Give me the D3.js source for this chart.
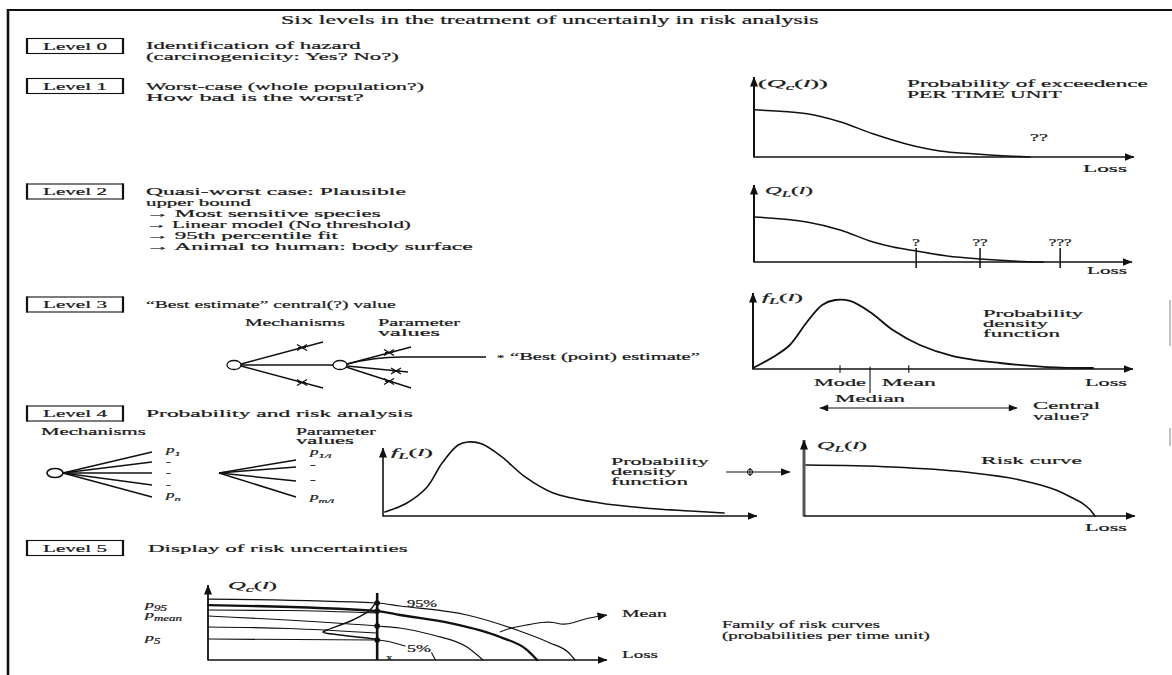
<!DOCTYPE html>
<html><head><meta charset="utf-8">
<script src="https://cdn.jsdelivr.net/npm/d3@7"></script>
<style>
html,body{margin:0;padding:0;background:#fff;}
svg{display:block;}
text{font-family:"Liberation Serif","Times New Roman",serif;fill:#1c1c1c;stroke:#1c1c1c;stroke-width:0.22;}
</style></head><body>
<svg id="c" width="1172" height="675"></svg>
<script>
// ================= DATA =================
const titleText = "Six levels in the treatment of uncertainly in risk analysis";
const levelNames = ["Level 0","Level 1","Level 2","Level 3","Level 4","Level 5"];
const level0Lines = ["Identification of hazard","(carcinogenicity: Yes? No?)"];
const level1Lines = ["Worst-case (whole population?)","How bad is the worst?"];
const level2Lines = ["Quasi-worst case: Plausible","upper bound","\u2192 Most sensitive species",
  "\u2192 Linear model (No threshold)","\u2192 95th percentile fit","\u2192 Animal to human: body surface"];
const level3Lines = ["\u201CBest estimate\u201D central(?) value"];
const level4Lines = ["Probability and risk analysis"];
const level5Lines = ["Display of risk uncertainties"];

// Level 1: probability of exceedence per time unit  [loss, Q]
const worstCaseCurve = [[0,0.59],[14,0.54],[22.6,0.44],[31.3,0.29],[40.3,0.16],[48.9,0.075],[57.6,0.04],[66.6,0.013],[72.6,0]];
const worstCaseNote = "??";
// Level 2: quasi-worst case
const quasiCurve = [[0,0.584],[14,0.519],[22.8,0.416],[31.5,0.26],[36.8,0.195],[42.9,0.143],[51.1,0.078],[59.8,0.039],[68.5,0.013],[76.5,0]];
const quasiTicks = [42.9, 59.8, 81];
const quasiTickLabels = ["?","??","???"];
// Level 3: probability density function
const bestPdf = [[0,0.013],[5.3,0.158],[9.7,0.316],[14.2,0.618],[18.2,0.842],[21.6,0.908],[25.5,0.895],[30.8,0.75],[36.8,0.513],[43.9,0.316],[52.6,0.171],[65,0.079],[77.4,0.026],[89.5,0.013]];
const centralNames = ["Mode","Median","Mean"];
const centralValues = [22.9, 30.8, 41];
const centralRange = [17.6, 69.5];
// Level 4: pdf and risk curve
const riskPdf = [[0.5,0.059],[6.4,0.191],[11.8,0.426],[15.8,0.779],[20.1,1.044],[22.7,1.088],[26.5,1.059],[31.8,0.868],[38,0.574],[45.5,0.338],[58,0.191],[69.8,0.118],[82.1,0.074],[91.2,0.044]];
const riskCurve = [[0.6,0.671],[26.6,0.645],[48.6,0.579],[65.3,0.474],[76.1,0.342],[81,0.24],[84,0.171],[86.5,0.08],[87.9,0]];
const mechanismLabels = ["p|1","-","-","-","p|n"];
const parameterLabels = ["p|1/i","-","-","p|m/i"];
// Level 5: family of risk curves
const familyNames = ["p95","pmeanUpper","mean","middle","pLower","p5"];
const familyCurves = [
  [[0,0.813],[42.4,0.76],[48.1,0.72],[64.9,0.6],[77.4,0.4],[85.7,0.227],[90.2,0.107],[92,0]],
  [[0,0.667],[20,0.66],[42.4,0.627]],
  [[0,0.733],[42.4,0.653],[48.1,0.6],[60.7,0.493],[73.2,0.307],[80,0.133],[82.5,0]],
  [[0,0.587],[42.4,0.453],[48.1,0.427],[56.4,0.333],[64.9,0.173],[68.9,0]],
  [[0,0.44],[20,0.42],[42.4,0.36]],
  [[0,0.28],[42.4,0.267],[49.4,0.187]]
];
const lossMark = 42.4;
const dotValues = [0.76, 0.653, 0.453, 0.267];
const uncertaintyDensity = [[42.4,0.8],[40.6,0.667],[36.3,0.533],[29.8,0.4],[28.8,0.373],[33.1,0.333],[39.8,0.293],[43,0.267]];
const percentileLabels = ["p|95","p|mean","p|5"];
const percentileLabelValues = [0.733, 0.6, 0.293];
const meanPointer = [[73.2,0.373],[75.7,0.427],[79.9,0.467],[84,0.507],[86.5,0.507],[89,0.467],[91.5,0.493],[95,0.56],[100,0.6]];

// ================= DRAWING =================
const svg = d3.select("#c");
const defs = svg.append("defs");
defs.append("marker").attr("id","ah").attr("viewBox","0 0 10 8").attr("refX",9.5).attr("refY",4)
  .attr("markerWidth",10).attr("markerHeight",8).attr("markerUnits","userSpaceOnUse").attr("orient","auto")
  .append("path").attr("d","M0,0 L10,4 L0,8 Z").attr("fill","#111");
defs.append("marker").attr("id","ahs").attr("viewBox","0 0 10 8").attr("refX",9.5).attr("refY",4)
  .attr("markerWidth",12).attr("markerHeight",7).attr("markerUnits","userSpaceOnUse").attr("orient","auto-start-reverse")
  .append("path").attr("d","M0,0 L10,4 L0,8 Z").attr("fill","#111");

function addText(x, y, content, o = {}) {
  const fs = o.fs || 10.5;
  const t = svg.append("text").attr("font-size", fs).attr("x", 0).attr("y", 0);
  if (o.weight) t.attr("font-weight", o.weight);
  let parts;
  if (typeof content === "string") {
    if (content.includes("|")) { const [a,b] = content.split("|"); parts = [{t:a,it:true},{t:b,it:true,sub:true}]; }
    else parts = [{t:content}];
  } else parts = content;
  let off = 0;
  parts.forEach(p => {
    const s = t.append("tspan").text(p.t);
    if (p.it) s.attr("font-style","italic");
    if (p.sub) { s.attr("font-size", fs*0.72); const d = fs*0.3; s.attr("dy", d - off); off = d; }
    else if (off) { s.attr("dy", -off); off = 0; }
  });
  const len = t.node().getComputedTextLength();
  const sx = o.w ? o.w / len : (o.sx || 1.9);
  let x0 = x;
  if (o.anchor === "middle") x0 = x - len * sx / 2;
  else if (o.anchor === "end") x0 = x - len * sx;
  t.attr("transform", `translate(${x0},${y}) scale(${sx},1)`);
  return t;
}
function line(x1,y1,x2,y2,w=1.2,marker,col="#111"){
  const l = svg.append("line").attr("x1",x1).attr("y1",y1).attr("x2",x2).attr("y2",y2)
    .attr("stroke",col).attr("stroke-width",w);
  if (marker) l.attr("marker-end","url(#"+marker+")");
  return l;
}
function makeChart(xr, yr){
  return { x: d3.scaleLinear().domain([0,100]).range(xr), y: d3.scaleLinear().domain([0,1]).range(yr) };
}
function axes(c, yw=2, xw=1.3, ycol="#111"){
  line(c.x(0), c.y(0)+0.5, c.x(0), c.y(1), yw, "ah", ycol);
  line(c.x(0), c.y(0), c.x(100), c.y(0), xw, "ah");
}
function curve(c, data, w=1.5, type=d3.curveMonotoneX){
  svg.append("path").attr("d", d3.line().x(d=>c.x(d[0])).y(d=>c.y(d[1])).curve(type)(data))
    .attr("fill","none").attr("stroke","#111").attr("stroke-width",w).attr("stroke-linecap","round");
}
function star(x,y){ line(x-5,y-3,x+5,y+3,1.4); line(x-5,y+3,x+5,y-3,1.4); line(x-4,y,x+4,y,1); }

// frame
line(8,10,1172,10,2);
line(8,9,8,675,2.6);
line(1170,300,1170,346,1.2,null,"#999");
line(1170,428,1170,446,1.2,null,"#999");
// title
addText(550, 24, titleText, {fs:11.5, w:538, anchor:"middle"});

// level boxes
const boxCY = [46, 86, 191.5, 304.5, 413.5, 548];
levelNames.forEach((n,i)=>{
  svg.append("rect").attr("x",27).attr("y",boxCY[i]-7.5).attr("width",96).attr("height",15)
    .attr("fill","none").attr("stroke","#111").attr("stroke-width",1.1);
  line(27, boxCY[i]-8, 27, boxCY[i]+8, 2.2);
  line(123, boxCY[i]-8, 123, boxCY[i]+8, 2.2);
  addText(75, boxCY[i]+3.6, n, {fs:10.5, w:64, anchor:"middle"});
});

// level descriptions
addText(146, 48.5, level0Lines[0], {w:215});
addText(146, 59.5, level0Lines[1], {w:253});
addText(146, 90, level1Lines[0], {w:278});
addText(146, 101, level1Lines[1], {w:218});
const l2y = [195, 206, 217, 228, 239, 250];
const l2w = [260, 105, 235, 265, 192, 327];
level2Lines.forEach((s,i)=> addText(146, l2y[i], s, {fs:10, w:l2w[i]}));
addText(146, 308, level3Lines[0], {w:250});
addText(146, 417, level4Lines[0], {w:267});
addText(148, 551.5, level5Lines[0], {w:260});

// ---------- Level 1 chart ----------
const c1 = makeChart([754,1134],[157,77]);
axes(c1);
curve(c1, worstCaseCurve, 1.5);
addText(758, 87, [{t:"("},{t:"Q",it:true},{t:"c",it:true,sub:true},{t:"("},{t:"l",it:true},{t:"))"}], {fs:10, w:70});
addText(907, 87, "Probability of exceedence", {w:241});
addText(907, 98, "PER TIME UNIT", {w:155});
addText(1030, 141, worstCaseNote, {w:18});
addText(1083, 172, "Loss", {w:44});

// ---------- Level 2 chart ----------
const c2 = makeChart([754,1132],[262,185]);
axes(c2);
curve(c2, quasiCurve, 1.5);
quasiTicks.forEach((v,i)=>{
  line(c2.x(v), c2.y(0.182), c2.x(v), c2.y(-0.078), 1.5);
  addText(c2.x(v), 246, quasiTickLabels[i], {fs:9.5, sx:1.8, anchor:"middle"});
});
addText(765, 194, [{t:"Q",it:true},{t:"L",it:true,sub:true},{t:"("},{t:"l",it:true},{t:")"}], {w:48});
addText(1087, 274, "Loss", {w:40});

// ---------- Level 3 tree ----------
addText(245, 326, "Mechanisms", {fs:9.5, w:100});
addText(378, 326, "Parameter", {fs:9.5, w:82});
addText(378, 335.5, "values", {fs:9.5, w:62});
svg.append("ellipse").attr("cx",234).attr("cy",365).attr("rx",7).attr("ry",4.5).attr("fill","#fff").attr("stroke","#111").attr("stroke-width",1.3);
svg.append("ellipse").attr("cx",340).attr("cy",365).attr("rx",7).attr("ry",4.5).attr("fill","#fff").attr("stroke","#111").attr("stroke-width",1.3);
line(241,364,323,342,1.4); star(302,347.5);
line(241,366,323,388,1.4); star(302,382.5);
line(241,365,333,365,1.4);
line(347,364,411,347,1.4); star(389,352.5);
line(347,366,408,372,1.4); star(396,371);
line(346,367,411,388,1.4); star(389,381.5);
svg.append("path").attr("d","M347,364 Q375,357 401,357 L486,357").attr("fill","none").attr("stroke","#111").attr("stroke-width",1.3);
addText(497, 361, "*", {fs:9, sx:1.6});
addText(510, 360, "\u201CBest (point) estimate\u201D", {fs:9.5, w:190});

// ---------- Level 3 chart ----------
const c3 = makeChart([753,1133],[369,293]);
axes(c3);
curve(c3, bestPdf, 1.8, d3.curveCatmullRom);
centralValues.forEach((v,i)=>{
  if (centralNames[i] === "Median") line(c3.x(v), c3.y(0.03), c3.x(v), c3.y(-0.316), 1.1);
  else line(c3.x(v), c3.y(0.05), c3.x(v), c3.y(-0.05), 1.1);
});
addText(c3.x(centralValues[0]), 386, "Mode", {w:52, anchor:"middle"});
addText(c3.x(centralValues[2]), 386, "Mean", {w:54, anchor:"middle"});
addText(c3.x(centralValues[1]), 402, "Median", {w:70, anchor:"middle"});
addText(1085, 386, "Loss", {w:42});
addText(762, 301, [{t:"f",it:true},{t:"L",it:true,sub:true},{t:"("},{t:"l",it:true},{t:")"}], {w:41});
addText(983, 317, "Probability", {w:100});
addText(983, 327, "density", {w:65});
addText(983, 337, "function", {w:77});
{
  const y = c3.y(-0.513);
  const l = line(c3.x(centralRange[0]), y, c3.x(centralRange[1]), y, 1.1, "ahs");
  l.attr("marker-start","url(#ahs)");
}
addText(1033, 409, "Central", {w:67});
addText(1033, 419.5, "value?", {w:56});

// ---------- Level 4 tree ----------
addText(41, 435, "Mechanisms", {fs:9.5, w:105});
svg.append("ellipse").attr("cx",55).attr("cy",473).attr("rx",8).attr("ry",4.5).attr("fill","#fff").attr("stroke","#111").attr("stroke-width",1.6);
const fan1Y = [452,462,473,485,497];
mechanismLabels.forEach((lab,i)=>{
  line(63,473,152,fan1Y[i],1.5);
  if (lab === "-") addText(166, fan1Y[i]+3, lab, {fs:8, sx:1.8});
  else addText(166, fan1Y[i]+1, lab, {fs:9.5, sx:1.8});
});
addText(296, 435, "Parameter", {fs:9.5, w:80});
addText(296, 443.5, "values", {fs:9.5, w:58});
const fan2Y = [460,467,481,497];
const fan2LabY = [455,468,483,500];
parameterLabels.forEach((lab,i)=>{
  line(219,473,296,fan2Y[i],1.5);
  addText(310, fan2LabY[i], lab, {fs:9.5, sx:1.8});
});

// ---------- Level 4 pdf chart ----------
const c4 = makeChart([383,757],[516,448]);
axes(c4, 1.6, 1.3);
curve(c4, riskPdf, 1.6, d3.curveCatmullRom);
addText(391, 456, [{t:"f",it:true},{t:"L",it:true,sub:true},{t:"("},{t:"l",it:true},{t:")"}], {w:42});
addText(611, 465, "Probability", {w:98});
addText(611, 475, "density", {w:65});
addText(611, 485, "function", {w:77});
line(726, 472, 790, 472, 1.2, "ah");
svg.append("ellipse").attr("cx",750).attr("cy",472).attr("rx",2.5).attr("ry",3).attr("fill","none").attr("stroke","#111").attr("stroke-width",1);
line(750,468,750,476,1);

// ---------- Level 4 risk chart ----------
const c5 = makeChart([804,1135],[516,440]);
axes(c5, 3, 1.3, "#555");
curve(c5, riskCurve, 1.6);
addText(817, 449, [{t:"Q",it:true},{t:"L",it:true,sub:true},{t:"("},{t:"l",it:true},{t:")"}], {w:50});
addText(981, 464, "Risk curve", {w:101});
addText(1085, 531, "Loss", {w:42});

// ---------- Level 5 chart ----------
const c6 = makeChart([208,607],[660,585]);
axes(c6, 1.8, 1.4);
familyCurves.forEach((d,i)=>{
  const w = familyNames[i]==="mean" ? 2.3 : 1.2;
  curve(c6, d, w);
});
line(c6.x(lossMark), c6.y(0.893), c6.x(lossMark), c6.y(0), 2.6);
dotValues.forEach(v=> svg.append("circle").attr("cx",c6.x(lossMark)).attr("cy",c6.y(v)).attr("r",2.8).attr("fill","#111"));
curve(c6, uncertaintyDensity, 1.5, d3.curveCatmullRom);
svg.append("path").attr("d", d3.line().x(d=>c6.x(d[0])).y(d=>c6.y(d[1])).curve(d3.curveBasis)(meanPointer))
  .attr("fill","none").attr("stroke","#111").attr("stroke-width",1.1).attr("marker-end","url(#ah)");
percentileLabels.forEach((lab,i)=> addText(145, c6.y(percentileLabelValues[i])+3, lab, {fs:10, sx:1.8}));
addText(228, 589, [{t:"Q",it:true},{t:"c",it:true,sub:true},{t:"("},{t:"l",it:true},{t:")"}], {w:49});
addText(407, 607, "95%", {fs:9.5, w:30});
addText(407, 652, "5%", {fs:9.5, w:24});
line(c6.x(56), c6.y(0.1), c6.x(57), c6.y(0.0), 1.1);
addText(386, 660, "x", {fs:8, sx:1.6});
addText(622, 617, "Mean", {w:45});
addText(622, 658, "Loss", {w:36});
addText(722, 628, "Family of risk curves", {w:158});
addText(722, 639, "(probabilities per time unit)", {w:208});
</script>
</body></html>
